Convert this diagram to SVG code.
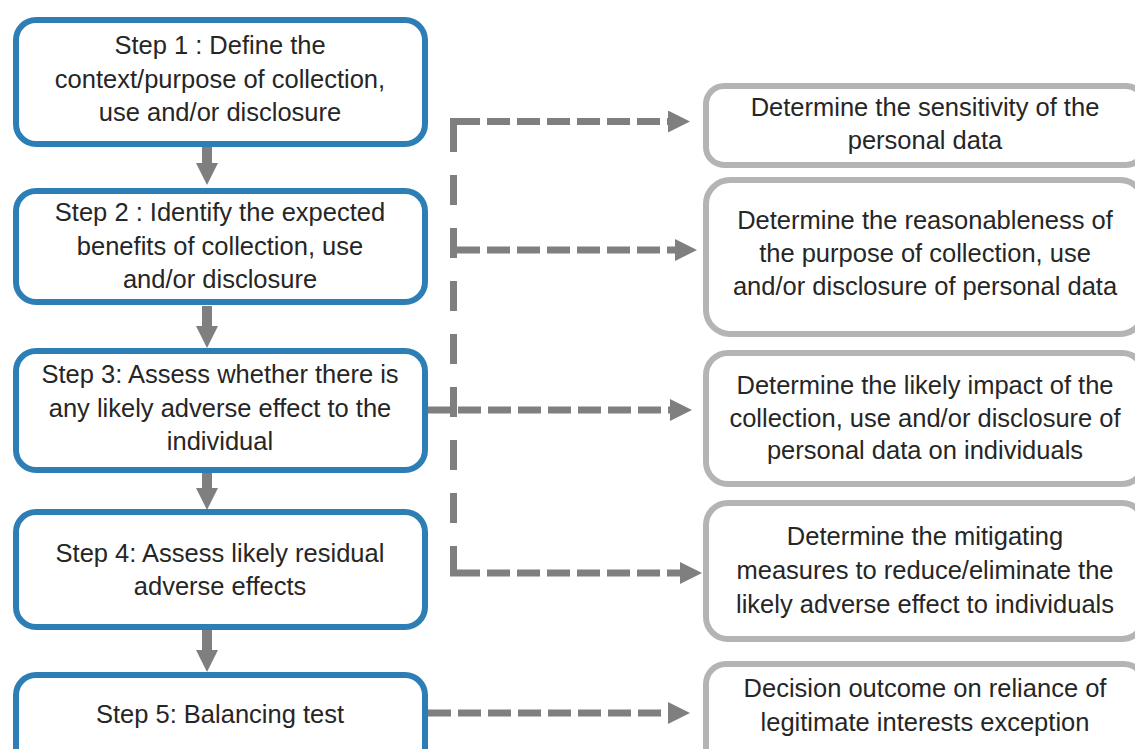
<svg xmlns="http://www.w3.org/2000/svg" width="1135" height="749" viewBox="0 0 1135 749">
  <style>
    .step { fill: #ffffff; stroke: #2E7EB6; stroke-width: 6; }
    .info { fill: #ffffff; stroke: #B4B4B4; stroke-width: 6; }
    text { font-family: "Liberation Sans", Arial, sans-serif; font-size: 25.5px; fill: #262626; text-anchor: middle; }
    .flow { stroke: #7F7F7F; stroke-width: 10; fill: none; }
    .dash { stroke: #7F7F7F; stroke-width: 7; fill: none; stroke-dasharray: 23 7; }
    .vdash { stroke: #7F7F7F; stroke-width: 7; fill: none; stroke-dasharray: 30 23; }
  </style>
  <defs>
    <marker id="solidHead" markerUnits="userSpaceOnUse" markerWidth="22" markerHeight="22" refX="7" refY="11" orient="auto">
      <path d="M0,0 L22,11 L0,22 Z" fill="#7F7F7F"/>
    </marker>
    <marker id="dashHead" markerUnits="userSpaceOnUse" markerWidth="22" markerHeight="22" refX="7" refY="11" orient="auto">
      <path d="M0,0 L22,11 L0,22 Z" fill="#7F7F7F"/>
    </marker>
  </defs>

  <g id="connectors">
    <line class="flow" x1="207" y1="147" x2="207" y2="170" marker-end="url(#solidHead)"/>
    <line class="flow" x1="207" y1="306" x2="207" y2="333" marker-end="url(#solidHead)"/>
    <line class="flow" x1="207" y1="473" x2="207" y2="495" marker-end="url(#solidHead)"/>
    <line class="flow" x1="207" y1="630" x2="207" y2="657" marker-end="url(#solidHead)"/>

    <line class="vdash" x1="453.5" y1="122" x2="453.5" y2="576.5"/>
    <line class="dash" x1="450" y1="121.5" x2="675" y2="121.5" style="stroke-dasharray: 30 7 23 7 23 7 23 7 23 7 23 7 23 7 23 7" marker-end="url(#dashHead)"/>
    <line class="dash" x1="457" y1="250" x2="682" y2="250" marker-end="url(#dashHead)"/>
    <line class="dash" x1="428" y1="410" x2="677" y2="410" marker-end="url(#dashHead)"/>
    <line class="dash" x1="450" y1="573" x2="687" y2="573" style="stroke-dasharray: 30 7 23 7 23 7 23 7 23 7 23 7 23 7 23 7" marker-end="url(#dashHead)"/>
    <line class="dash" x1="428" y1="713" x2="675" y2="713" marker-end="url(#dashHead)"/>
  </g>

  <g id="step1">
    <rect class="step" x="16" y="20" width="409" height="124" rx="20"/>
    <text x="220" y="54">Step 1 : Define the</text>
    <text x="220" y="88">context/purpose of collection,</text>
    <text x="220" y="121">use and/or disclosure</text>
  </g>
  <g id="step2">
    <rect class="step" x="16" y="191" width="409" height="111" rx="20"/>
    <text x="220" y="221">Step 2 : Identify the expected</text>
    <text x="220" y="255">benefits of collection, use</text>
    <text x="220" y="288">and/or disclosure</text>
  </g>
  <g id="step3">
    <rect class="step" x="16" y="351" width="409" height="119" rx="20"/>
    <text x="220" y="383">Step 3: Assess whether there is</text>
    <text x="220" y="417">any likely adverse effect to the</text>
    <text x="220" y="450">individual</text>
  </g>
  <g id="step4">
    <rect class="step" x="16" y="512" width="409" height="115" rx="20"/>
    <text x="220" y="562">Step 4: Assess likely residual</text>
    <text x="220" y="595">adverse effects</text>
  </g>
  <g id="step5">
    <rect class="step" x="16" y="675" width="409" height="110" rx="20"/>
    <text x="220" y="723">Step 5: Balancing test</text>
  </g>

  <g id="sensitivity">
    <rect class="info" x="706" y="86" width="438" height="79" rx="18"/>
    <text x="925" y="116">Determine the sensitivity of the</text>
    <text x="925" y="149">personal data</text>
  </g>
  <g id="reasonableness">
    <rect class="info" x="706" y="180" width="438" height="154" rx="24"/>
    <text x="925" y="229">Determine the reasonableness of</text>
    <text x="925" y="262">the purpose of collection, use</text>
    <text x="925" y="295">and/or disclosure of personal data</text>
  </g>
  <g id="impact">
    <rect class="info" x="706" y="353" width="438" height="131" rx="22"/>
    <text x="925" y="394">Determine the likely impact of the</text>
    <text x="925" y="427">collection, use and/or disclosure of</text>
    <text x="925" y="459">personal data on individuals</text>
  </g>
  <g id="mitigating">
    <rect class="info" x="706" y="503" width="438" height="136" rx="22"/>
    <text x="925" y="545">Determine the mitigating</text>
    <text x="925" y="579">measures to reduce/eliminate the</text>
    <text x="925" y="613">likely adverse effect to individuals</text>
  </g>
  <g id="decision">
    <rect class="info" x="706" y="664" width="438" height="120" rx="20"/>
    <text x="925" y="697">Decision outcome on reliance of</text>
    <text x="925" y="731">legitimate interests exception</text>
  </g>
</svg>
